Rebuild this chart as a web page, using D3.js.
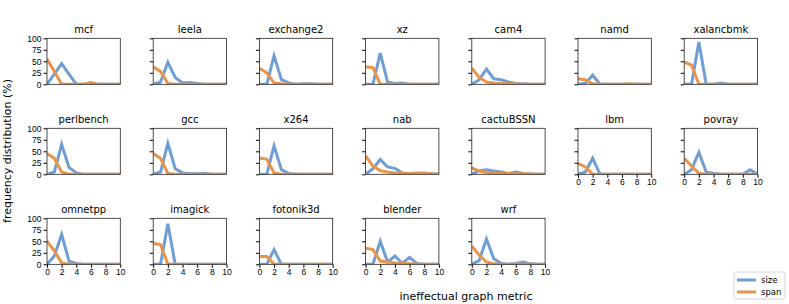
<!DOCTYPE html>
<html>
<head>
<meta charset="utf-8">
<script src="https://cdn.jsdelivr.net/npm/d3@7"></script>
<style>
  body { margin: 0; background: #fff; }
  svg { font-family: "DejaVu Sans", sans-serif; }
</style>
</head>
<body>
<div id="chart"></div>
<script>

// benchmark panels, in reading order (7 columns)
var benchmarks = ['mcf', 'leela', 'exchange2', 'xz', 'cam4', 'namd', 'xalancbmk',
                  'perlbench', 'gcc', 'x264', 'nab', 'cactuBSSN', 'lbm', 'povray',
                  'omnetpp', 'imagick', 'fotonik3d', 'blender', 'wrf'];

var metricValues = [0, 1, 2, 3, 4, 5, 6, 7, 8, 9, 10];

// frequency (%) of "size" for metric value 0..10
var sizeValues = [
    [0, 22, 45, 22, 0, 0, 0, 0, 0, 0, 0],      // mcf
    [0, 5, 48, 15, 3, 4, 2, 0, 0, 0, 0],       // leela
    [0, 0, 62, 10, 3, 0, 1, 1, 0, 0, 0],       // exchange2
    [0, 0, 68, 5, 2, 3, 0, 0, 0, 0, 0],        // xz
    [0, 10, 33, 12, 10, 5, 2, 1, 0, 0, 0],     // cam4
    [0, 2, 20, 0, 0, 0, 0, 0, 0, 0, 0],        // namd
    [0, 0, 92, 0, 0, 3, 0, 0, 0, 0, 0],        // xalancbmk
    [0, 5, 65, 15, 3, 0, 0, 0, 0, 0, 0],       // perlbench
    [0, 5, 67, 12, 3, 2, 1, 2, 0, 0, 0],       // gcc
    [0, 0, 62, 10, 2, 0, 0, 0, 0, 0, 0],       // x264
    [0, 12, 32, 16, 13, 3, 2, 2, 3, 1, 0],     // nab
    [0, 8, 10, 7, 5, 2, 5, 2, 0, 0, 0],        // cactuBSSN
    [0, 5, 35, 0, 0, 0, 0, 0, 0, 0, 0],        // lbm
    [0, 10, 48, 5, 2, 0, 0, 0, 0, 10, 0],      // povray
    [0, 18, 65, 7, 2, 0, 0, 0, 0, 0, 0],       // omnetpp
    [0, 0, 88, 0, 0, 0, 0, 0, 0, 0, 0],        // imagick
    [0, 0, 32, 0, 0, 0, 0, 0, 0, 0, 0],        // fotonik3d
    [0, 0, 50, 5, 18, 2, 15, 2, 0, 0, 0],      // blender
    [0, 8, 55, 12, 2, 0, 2, 5, 1, 0, 0]        // wrf
];

// frequency (%) of "span" for metric value 0..10
var spanValues = [
    [55, 28, 0, 0, 0, 0, 4, 0, 0, 0, 0],       // mcf
    [38, 28, 2, 0, 0, 0, 0, 0, 0, 0, 0],       // leela
    [35, 25, 3, 1, 0, 0, 0, 0, 0, 0, 0],       // exchange2
    [38, 36, 0, 0, 0, 0, 0, 0, 0, 0, 0],       // xz
    [35, 15, 5, 3, 2, 1, 1, 0, 0, 0, 0],       // cam4
    [12, 10, 1, 0, 0, 0, 0, 1, 0, 0, 0],       // namd
    [48, 42, 0, 0, 0, 0, 0, 0, 0, 0, 0],       // xalancbmk
    [45, 35, 5, 0, 0, 0, 0, 0, 0, 0, 0],       // perlbench
    [45, 35, 2, 0, 0, 0, 0, 0, 0, 0, 0],       // gcc
    [35, 33, 3, 0, 0, 0, 0, 0, 0, 0, 0],       // x264
    [40, 18, 8, 5, 3, 2, 2, 3, 2, 1, 0],       // nab
    [14, 7, 4, 3, 2, 2, 1, 1, 1, 0, 0],        // cactuBSSN
    [24, 16, 0, 0, 0, 0, 0, 0, 0, 0, 0],       // lbm
    [35, 18, 2, 0, 0, 0, 0, 0, 0, 0, 0],       // povray
    [50, 30, 3, 0, 0, 0, 0, 0, 0, 0, 0],       // omnetpp
    [45, 43, 0, 0, 0, 0, 0, 0, 0, 0, 0],       // imagick
    [17, 17, 0, 0, 0, 0, 0, 0, 0, 0, 0],       // fotonik3d
    [35, 32, 7, 5, 3, 2, 1, 0, 0, 0, 0],       // blender
    [40, 20, 5, 1, 0, 0, 0, 0, 0, 0, 0]        // wrf
];

var seriesNames = ['size', 'span'];
var xTicks = [0, 2, 4, 6, 8, 10];
var yTicks = [0, 25, 50, 75, 100];

var width = 789;
var height = 304;
var nCols = 7;
var panelLeft = 47;
var panelTop = 38.3;
var colStep = 106.2;
var rowStep = 90;
var panelW = 73.3;
var panelH = 46;
var colors = {size: '#6f9ed4', span: '#e9944a'};

var svg = d3.select('#chart').append('svg')
    .attr('width', width)
    .attr('height', height);

var xScale = d3.scaleLinear().domain([0, 10]).range([0, panelW]);
var yScale = d3.scaleLinear().domain([0, 100]).range([panelH, 0]);

var line = d3.line()
    .x(function(d, i) { return xScale(metricValues[i]); })
    .y(function(d) { return yScale(d); });

var n = benchmarks.length;

benchmarks.forEach(function(name, idx) {
    var col = idx % nCols;
    var row = Math.floor(idx / nCols);
    var x0 = panelLeft + col * colStep;
    var y0 = panelTop + row * rowStep;
    // panel is the lowest in its column -> show x tick labels
    var isBottom = idx + nCols >= n;

    var g = svg.append('g').attr('transform', 'translate(' + x0 + ',' + y0 + ')');

    g.append('clipPath').attr('id', 'clip' + idx)
        .append('rect').attr('width', panelW).attr('height', panelH);

    var yAxis = d3.axisLeft(yScale).tickValues(yTicks).tickSize(3.5).tickPadding(2);
    if (col !== 0) yAxis.tickFormat('');
    var ya = g.append('g').call(yAxis);
    ya.select('.domain').remove();
    ya.selectAll('text').style('font-size', '8.5px').attr('fill', '#000');

    if (isBottom) {
        var xAxis = d3.axisBottom(xScale).tickValues(xTicks).tickSize(3.5).tickPadding(1.5);
        var xa = g.append('g').attr('transform', 'translate(0,' + panelH + ')').call(xAxis);
        xa.select('.domain').remove();
        xa.selectAll('text').style('font-size', '8.5px').attr('fill', '#000');
    }

    var lines = g.append('g').attr('clip-path', 'url(#clip' + idx + ')');
    lines.append('path')
        .datum(sizeValues[idx])
        .attr('d', line)
        .attr('fill', 'none')
        .attr('stroke', colors.size)
        .attr('stroke-width', 3);
    lines.append('path')
        .datum(spanValues[idx])
        .attr('d', line)
        .attr('fill', 'none')
        .attr('stroke', colors.span)
        .attr('stroke-width', 3);

    g.append('rect')
        .attr('width', panelW)
        .attr('height', panelH)
        .attr('fill', 'none')
        .attr('stroke', '#222')
        .attr('stroke-width', 0.8);

    g.append('text')
        .attr('x', panelW / 2)
        .attr('y', -5)
        .attr('text-anchor', 'middle')
        .style('font-size', '10px')
        .text(name);
});

// axis labels
svg.append('text')
    .attr('transform', 'translate(11,151) rotate(-90)')
    .attr('text-anchor', 'middle')
    .style('font-size', '11px')
    .text('frequency distribution (%)');

svg.append('text')
    .attr('x', 466)
    .attr('y', 300)
    .attr('text-anchor', 'middle')
    .style('font-size', '11px')
    .text('ineffectual graph metric');

// legend
var legend = svg.append('g').attr('transform', 'translate(734,272)');
legend.append('rect')
    .attr('width', 51)
    .attr('height', 27)
    .attr('rx', 2)
    .attr('fill', '#fff')
    .attr('stroke', '#ccc')
    .attr('stroke-width', 0.8);
seriesNames.forEach(function(s, i) {
    legend.append('line')
        .attr('x1', 3).attr('x2', 22)
        .attr('y1', 8 + i * 12).attr('y2', 8 + i * 12)
        .attr('stroke', colors[s])
        .attr('stroke-width', 3);
    legend.append('text')
        .attr('x', 27)
        .attr('y', 11 + i * 12)
        .style('font-size', '8.5px')
        .text(s);
});

</script>
</body>
</html>
